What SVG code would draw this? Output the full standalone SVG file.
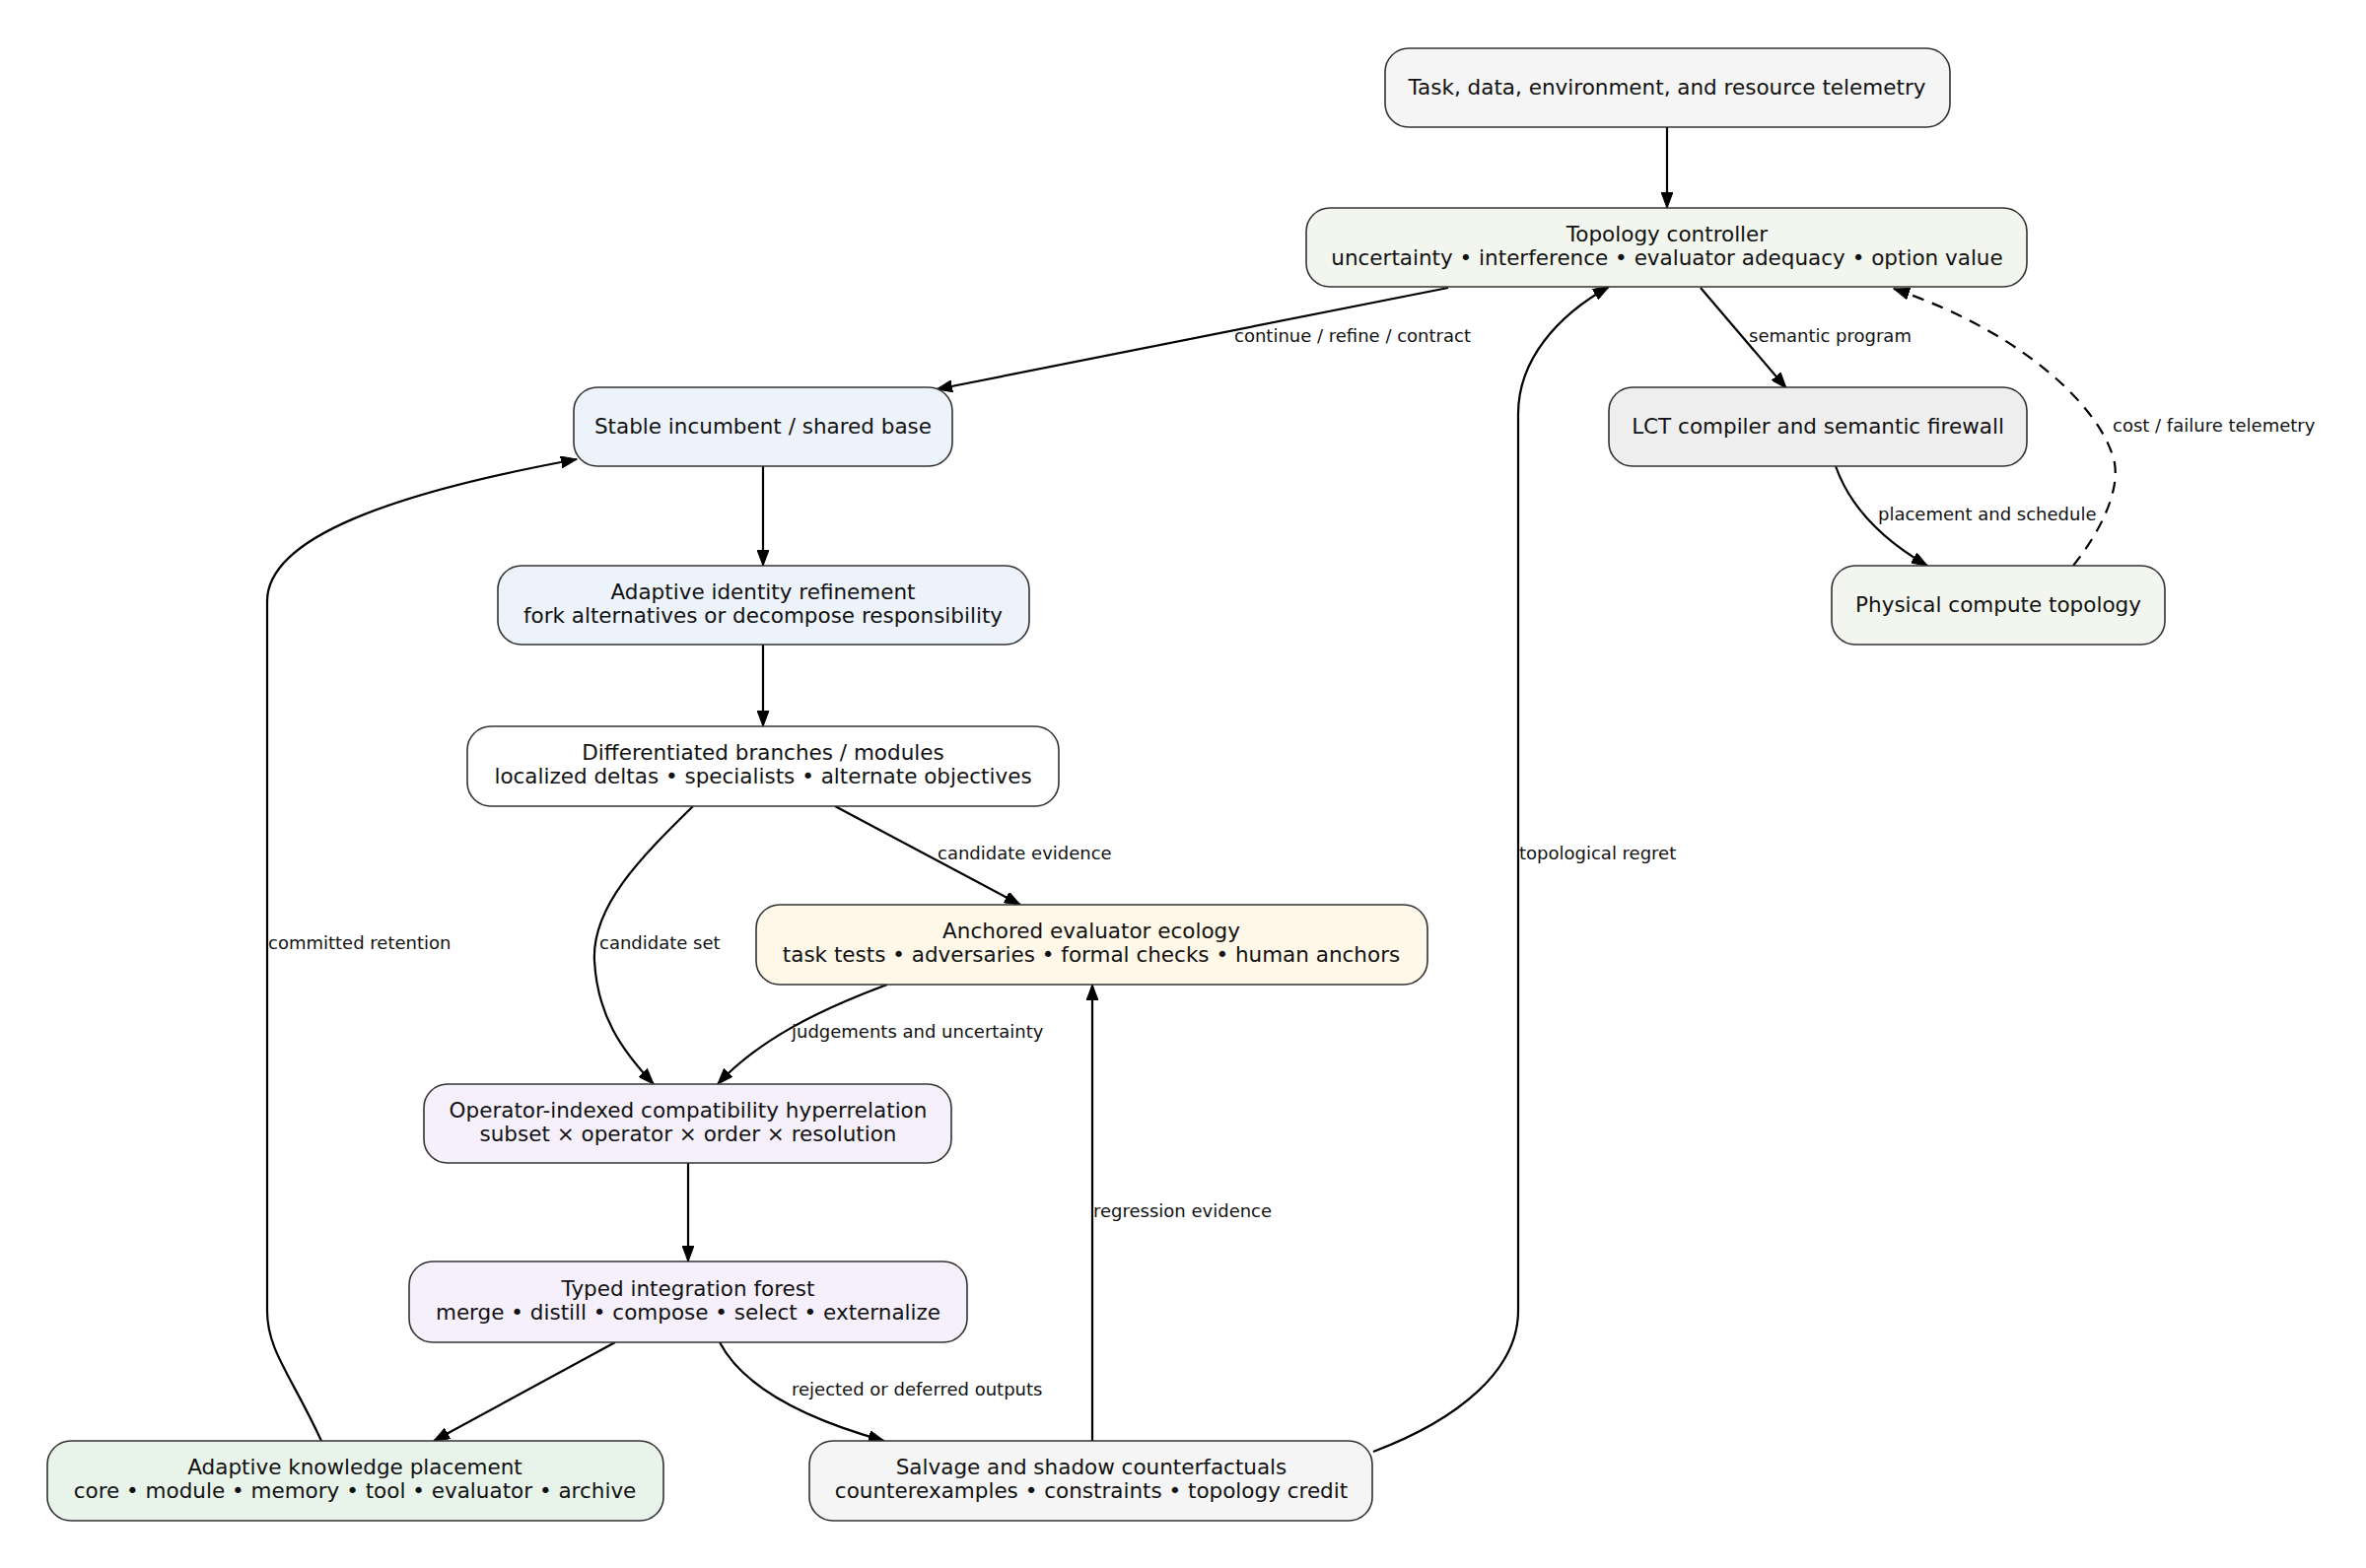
<svg xmlns="http://www.w3.org/2000/svg" width="2400" height="1591" viewBox="0 0 2400 1591">
<defs>
<style>
.n rect{stroke:#333;stroke-width:1.6}
.n text{font-family:"DejaVu Sans",sans-serif;font-size:21.5px;fill:#111;text-anchor:middle}
.e path{fill:none;stroke:#000;stroke-width:2.2}
.e .d{stroke-dasharray:12,9}
.lbl text{font-family:"DejaVu Sans",sans-serif;font-size:18px;fill:#111}
</style>
<marker id="ah" markerUnits="userSpaceOnUse" markerWidth="17" markerHeight="12" refX="16" refY="6" orient="auto">
<path d="M0,0 L16,6 L0,12 z" fill="#000" stroke="#000" stroke-width="1"/>
</marker>
</defs>
<rect width="2400" height="1591" fill="#fff"/>

<g id="connectors" class="e">
<path d="M1691,129 L1691,211" marker-end="url(#ah)"/>
<path d="M1469,292 L950,395" marker-end="url(#ah)"/>
<path d="M1725,292 L1812,394" marker-end="url(#ah)"/>
<path d="M1862,473 C1875,510 1905,545 1955,574" marker-end="url(#ah)"/>
<path class="d" d="M2103,574 C2130,540 2150,500 2145,470 C2135,420 2060,340 1921,293" marker-end="url(#ah)"/>
<path d="M774,473 L774,574" marker-end="url(#ah)"/>
<path d="M774,654 L774,737" marker-end="url(#ah)"/>
<path d="M847,818 L1035,918" marker-end="url(#ah)"/>
<path d="M703,818 C650,870 600,920 603,975 C606,1030 630,1065 663,1100" marker-end="url(#ah)"/>
<path d="M900,999 C830,1025 770,1055 728,1100" marker-end="url(#ah)"/>
<path d="M698,1180 L698,1280" marker-end="url(#ah)"/>
<path d="M624,1362 L440,1462" marker-end="url(#ah)"/>
<path d="M730,1362 C750,1400 800,1435 897,1462" marker-end="url(#ah)"/>
<path d="M1108,1462 L1108,999" marker-end="url(#ah)"/>
<path d="M1393,1473 C1480,1440 1540,1390 1540,1330 L1540,420 C1540,365 1580,320 1632,291" marker-end="url(#ah)"/>
<path d="M326,1462 C295,1395 271,1370 271,1330 L271,610 C271,545 400,500 585,466" marker-end="url(#ah)"/>
<g class="lbl">
<text x="1252" y="347">continue / refine / contract</text>
<text x="1774" y="347">semantic program</text>
<text x="1905" y="528">placement and schedule</text>
<text x="2143" y="438">cost / failure telemetry</text>
<text x="951" y="872">candidate evidence</text>
<text x="608" y="963">candidate set</text>
<text x="803" y="1053">judgements and uncertainty</text>
<text x="803" y="1416">rejected or deferred outputs</text>
<text x="1109" y="1235">regression evidence</text>
<text x="1541" y="872">topological regret</text>
<text x="272" y="963">committed retention</text>
</g>
</g>

<g id="telemetry" class="n">
<rect x="1405" y="49" width="573" height="80" rx="24" fill="#f5f5f5"/>
<text x="1691" y="96">Task, data, environment, and resource telemetry</text>
</g>
<g id="controller" class="n">
<rect x="1325" y="211" width="731" height="80" rx="24" fill="#f3f6ee"/>
<text x="1691" y="245">Topology controller</text>
<text x="1691" y="269">uncertainty • interference • evaluator adequacy • option value</text>
</g>
<g id="incumbent" class="n">
<rect x="582" y="393" width="384" height="80" rx="24" fill="#ecf3fb"/>
<text x="774" y="440">Stable incumbent / shared base</text>
</g>
<g id="compiler" class="n">
<rect x="1632" y="393" width="424" height="80" rx="24" fill="#eeeeee"/>
<text x="1844" y="440">LCT compiler and semantic firewall</text>
</g>
<g id="physical" class="n">
<rect x="1858" y="574" width="338" height="80" rx="24" fill="#f3f6ee"/>
<text x="2027" y="621">Physical compute topology</text>
</g>
<g id="refinement" class="n">
<rect x="505" y="574" width="539" height="80" rx="24" fill="#ecf3fb"/>
<text x="774" y="608">Adaptive identity refinement</text>
<text x="774" y="632">fork alternatives or decompose responsibility</text>
</g>
<g id="branches" class="n">
<rect x="474" y="737" width="600" height="81" rx="24" fill="#ffffff"/>
<text x="774" y="771">Differentiated branches / modules</text>
<text x="774" y="795">localized deltas • specialists • alternate objectives</text>
</g>
<g id="evaluator" class="n">
<rect x="767" y="918" width="681" height="81" rx="24" fill="#fff7e8"/>
<text x="1107" y="952">Anchored evaluator ecology</text>
<text x="1107" y="976">task tests • adversaries • formal checks • human anchors</text>
</g>
<g id="hyperrelation" class="n">
<rect x="430" y="1100" width="535" height="80" rx="24" fill="#f5f0fb"/>
<text x="698" y="1134">Operator-indexed compatibility hyperrelation</text>
<text x="698" y="1158">subset × operator × order × resolution</text>
</g>
<g id="forest" class="n">
<rect x="415" y="1280" width="566" height="82" rx="24" fill="#f5f0fb"/>
<text x="698" y="1315">Typed integration forest</text>
<text x="698" y="1339">merge • distill • compose • select • externalize</text>
</g>
<g id="placement" class="n">
<rect x="48" y="1462" width="625" height="81" rx="24" fill="#e8f3ea"/>
<text x="360" y="1496">Adaptive knowledge placement</text>
<text x="360" y="1520">core • module • memory • tool • evaluator • archive</text>
</g>
<g id="salvage" class="n">
<rect x="821" y="1462" width="571" height="81" rx="24" fill="#f5f5f5"/>
<text x="1107" y="1496">Salvage and shadow counterfactuals</text>
<text x="1107" y="1520">counterexamples • constraints • topology credit</text>
</g>
</svg>
